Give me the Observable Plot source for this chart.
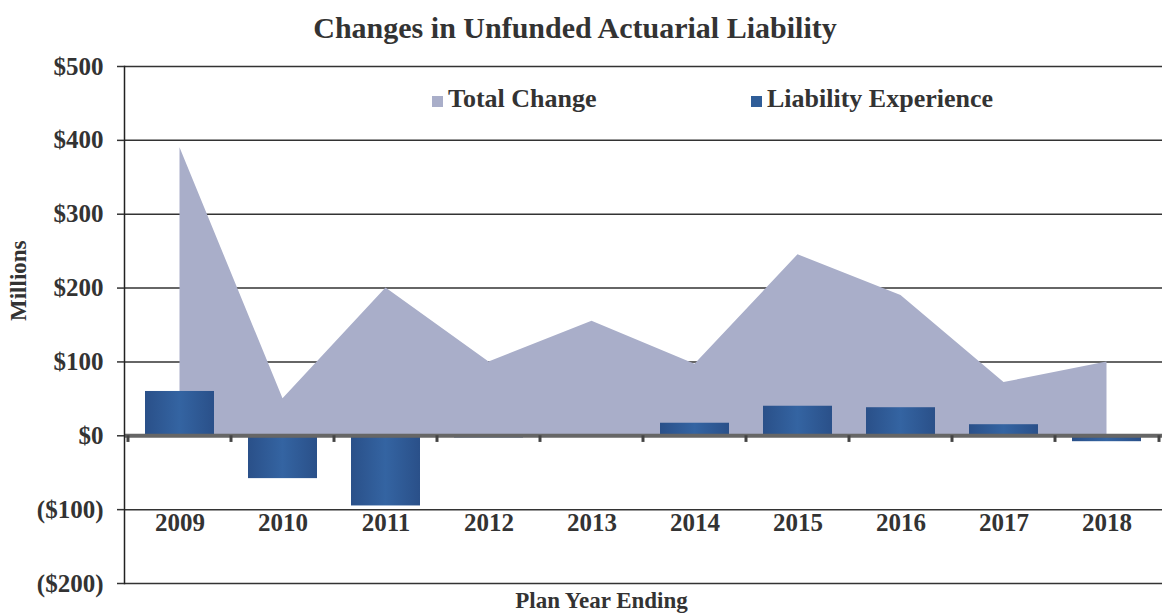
<!DOCTYPE html>
<html><head><meta charset="utf-8">
<script src="https://cdn.jsdelivr.net/npm/d3@7"></script>
<script src="https://cdn.jsdelivr.net/npm/@observablehq/plot@0.6"></script>
<style>
body{margin:0;background:#fff;font-family:"Liberation Serif","Times New Roman",serif;color:#333}
#wrap{position:relative;width:1162px;height:616px;overflow:hidden}
#title{height:48px;line-height:56px;text-align:center;font-weight:bold;font-size:30px;padding-right:12px;box-sizing:border-box}
.leg{position:absolute;top:84px;font-weight:bold;font-size:26px;white-space:nowrap;line-height:30px}
.sw{display:inline-block;width:11px;height:11px;margin-right:5px}
#chart svg{display:block}
</style></head><body>
<div id="wrap">
<div id="title">Changes in Unfunded Actuarial Liability</div>
<div id="chart"></div>
<div class="leg" style="left:432px"><span class="sw" style="background:#a9aec9"></span>Total Change</div>
<div class="leg" style="left:751px"><span class="sw" style="background:#2f5d98"></span>Liability Experience</div>
</div>
<script>
const years = ["2009","2010","2011","2012","2013","2014","2015","2016","2017","2018"];
const totalChange = [390, 50, 200, 100, 155, 97, 245, 190, 72, 100];
const liabilityExperience = [60, -58, -95, -3, 0, 17, 40, 38, 15, -8];
const yTicks = [-200, -100, 0, 100, 200, 300, 400, 500];

const data = years.map((y, i) => ({year: y, total: totalChange[i], liab: liabilityExperience[i]}));
const fmt = d => d < 0 ? `($${-d})` : `$${d}`;

const defs = () => {
  const ns = "http://www.w3.org/2000/svg";
  const d = document.createElementNS(ns, "defs");
  d.innerHTML = `<linearGradient id="barGrad" x1="0" x2="1" y1="0" y2="0">
    <stop offset="0" stop-color="#2a5089"/>
    <stop offset="0.5" stop-color="#3464a2"/>
    <stop offset="1" stop-color="#2a5089"/></linearGradient>`;
  return d;
};

const chart = Plot.plot({
  width: 1162, height: 568,
  marginTop: 18, marginBottom: 33, marginLeft: 124, marginRight: 0,
  style: {fontFamily: '"Liberation Serif","Times New Roman",serif', fontSize: "25px", fontWeight: "bold", color: "#333", background: "transparent", overflow: "visible"},
  x: {type: "band", domain: years, paddingInner: 0.33, paddingOuter: 0.165},
  y: {domain: [-200, 500]},
  marks: [
    defs,
    Plot.ruleY(yTicks, {stroke: "#333", strokeWidth: 1.5}),
    Plot.areaY(data, {x: "year", y: "total", fill: "#a9aec9"}),
    Plot.barY(data, {x: "year", y: "liab", fill: "url(#barGrad)"}),
    Plot.ruleY([0], {stroke: "#666", strokeWidth: 4}),
    Plot.ruleX(years, {x: d => d, y1: 0, y2: -9, dx: -52, stroke: "#444", strokeWidth: 3}),
    Plot.ruleX([years[years.length - 1]], {x: d => d, y1: 0, y2: -9, dx: 52, stroke: "#444", strokeWidth: 3}),
    Plot.frame({anchor: "left", stroke: "#222", strokeWidth: 1.5}),
    Plot.axisY({ticks: yTicks, tickFormat: fmt, tickSize: 7, tickPadding: 14, label: null, stroke: "#333", strokeWidth: 1.5}),
    Plot.axisX({anchor: "bottom", tickSize: 0, tickPadding: 0, dy: -70, label: null}),
    Plot.text(["Millions"], {frameAnchor: "left", dx: -106, dy: -4, rotate: -90, fontSize: 23}),
    Plot.text(["Plan Year Ending"], {frameAnchor: "bottom", dy: 24, dx: -42, fontSize: 23})
  ]
});
document.getElementById("chart").appendChild(chart);
</script>
</body></html>
